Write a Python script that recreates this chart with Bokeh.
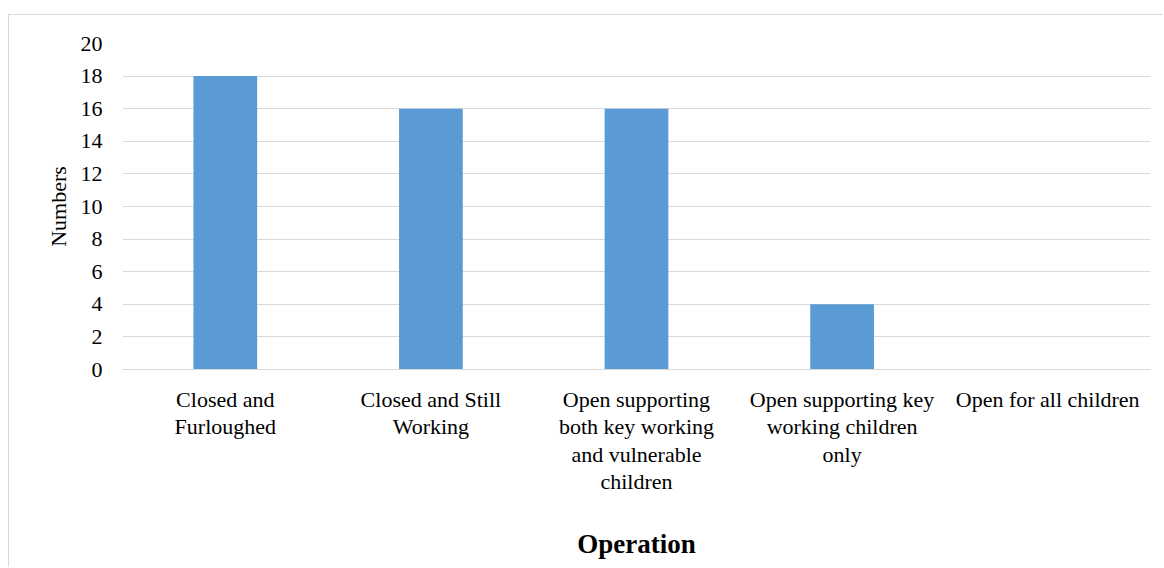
from bokeh.plotting import figure
from bokeh.models import ColumnDataSource, FactorRange, Range1d, FixedTicker
from bokeh.embed import file_html
from bokeh.resources import INLINE

categories = [
    "Closed and\nFurloughed",
    "Closed and Still\nWorking",
    "Open supporting\nboth key working\nand vulnerable\nchildren",
    "Open supporting key\nworking children\nonly",
    "Open for all children",
]
numbers = [18, 16, 16, 4, 0]
y_ticks = [0, 2, 4, 6, 8, 10, 12, 14, 16, 18, 20]

FONT = "Liberation Serif"
GRID = "#d9d9d9"

src = ColumnDataSource(data=dict(cat=categories, val=numbers))

p = figure(
    x_range=FactorRange(factors=categories, range_padding=0),
    y_range=Range1d(0, 20),
    width=1155, height=553,
    output_backend="svg", toolbar_location=None,
    min_border_left=113, min_border_right=14,
    min_border_top=28, min_border_bottom=199,
)
p.styles = {"border-top": "1px solid #d9d9d9", "border-left": "1px solid #d9d9d9",
            "margin-top": "14px", "margin-left": "8px"}
p.outline_line_color = None
p.background_fill_color = "white"
p.border_fill_color = "white"

p.vbar(x="cat", top="val", width=0.31, source=src, fill_color="#5b9bd5", line_color=None)

p.xgrid.grid_line_color = None
p.ygrid.grid_line_color = GRID
p.ygrid.grid_line_width = 1
p.yaxis.ticker = FixedTicker(ticks=y_ticks)

for ax in (p.xaxis[0], p.yaxis[0]):
    ax.major_tick_line_color = None
    ax.minor_tick_line_color = None
    ax.major_tick_out = 0
    ax.major_tick_in = 0
    ax.major_label_text_font = FONT
    ax.major_label_text_font_size = "22px"
    ax.major_label_text_color = "#000000"
    ax.axis_label_text_font = FONT
    ax.axis_label_text_color = "#000000"

p.yaxis.axis_line_color = None
p.yaxis.major_label_standoff = 20
p.yaxis.axis_label = "Numbers"
p.yaxis.axis_label_text_font_size = "22px"
p.yaxis.axis_label_text_font_style = "normal"
p.yaxis.axis_label_standoff = 7

p.xaxis.axis_line_color = GRID
p.xaxis.major_label_standoff = 17
p.xaxis.major_label_text_line_height = 1.1
p.xaxis.major_label_orientation = "horizontal"
p.xaxis.axis_label = "Operation"
p.xaxis.axis_label_text_font_size = "27px"
p.xaxis.axis_label_text_font_style = "bold"
p.xaxis.axis_label_standoff = 32

open("out.html", "w").write(file_html(p, INLINE))
